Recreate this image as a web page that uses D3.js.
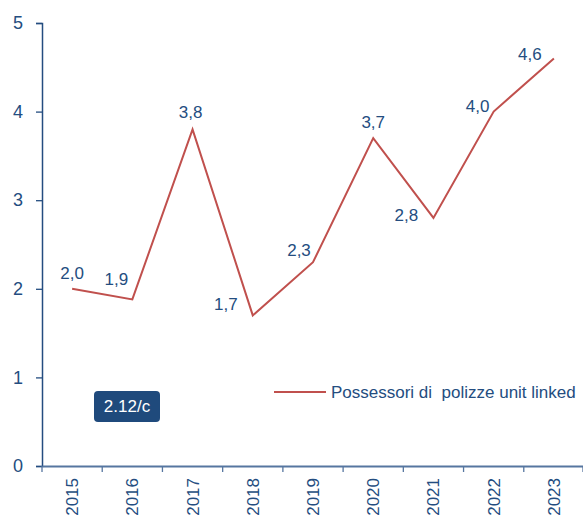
<!DOCTYPE html>
<html>
<head>
<meta charset="utf-8">
<script src="https://cdn.jsdelivr.net/npm/d3@7"></script>
<style>
  body { margin: 0; background: #fff; }
  text { font-family: "Liberation Sans", Arial, sans-serif; }
</style>
</head>
<body>
<div id="chart"></div>
<script>
// dati
const anni = ["2015", "2016", "2017", "2018", "2019", "2020", "2021", "2022", "2023"];
const valori = [2.0, 1.88, 3.8, 1.7, 2.3, 3.7, 2.8, 4.0, 4.6];
const etichette = ["2,0", "1,9", "3,8", "1,7", "2,3", "3,7", "2,8", "4,0", "4,6"];
const yTicks = [0, 1, 2, 3, 4, 5];
const nomeSerie = "Possessori di  polizze unit linked";

// spostamento delle etichette rispetto al punto (come nel grafico originale)
const offsetEtichette = [[0, -10], [-16, -14], [-2, -11], [-27, -5], [-14, -6], [0, -10], [-27, 3], [-16, 0], [-24, 2]];

const blu = "#244d80";
const rosso = "#c0504d";

const svg = d3.select("#chart")
  .append("svg")
  .attr("width", 583)
  .attr("height", 515);

const x = d3.scaleBand().domain(anni).range([42, 584]);
const y = d3.scaleLinear().domain([0, 5]).range([466, 23]);

// asse y
const assey = svg.append("g")
  .attr("transform", "translate(42,0)")
  .call(d3.axisLeft(y).tickValues(yTicks).tickFormat(d3.format("d")).tickSize(6).tickPadding(13));
assey.select(".domain").attr("stroke", blu).attr("stroke-width", 1.5);
assey.selectAll(".tick line").attr("stroke", blu).attr("stroke-width", 1.3);
assey.selectAll(".tick text")
  .attr("fill", blu)
  .style("font-size", "18px");

// asse x
const assex = svg.append("g")
  .attr("transform", "translate(0,466)")
  .call(d3.axisBottom(x).tickSize(0));
assex.select(".domain").attr("stroke", "#5676a0").attr("stroke-width", 1.8);
assex.selectAll(".tick text")
  .attr("fill", blu)
  .style("font-size", "17px")
  .attr("transform", "rotate(-90)")
  .attr("text-anchor", "end")
  .attr("x", -12)
  .attr("y", 0)
  .attr("dy", "0.35em");

// tacche tra le categorie
svg.append("g")
  .selectAll("line")
  .data(anni.concat(["fine"]))
  .join("line")
  .attr("x1", (d, i) => i < anni.length ? x(d) : x.range()[1] - 1)
  .attr("x2", (d, i) => i < anni.length ? x(d) : x.range()[1] - 1)
  .attr("y1", 466)
  .attr("y2", 472)
  .attr("stroke", "#5676a0")
  .attr("stroke-width", 1.3);

// linea
const cx = (d, i) => x(anni[i]) + x.bandwidth() / 2;
const linea = d3.line().x(cx).y(d => y(d));

svg.append("path")
  .datum(valori)
  .attr("d", linea)
  .attr("fill", "none")
  .attr("stroke", rosso)
  .attr("stroke-width", 2);

// etichette dei valori
svg.append("g")
  .selectAll("text")
  .data(valori)
  .join("text")
  .attr("x", (d, i) => cx(d, i) + offsetEtichette[i][0])
  .attr("y", (d, i) => y(d) + offsetEtichette[i][1])
  .attr("text-anchor", "middle")
  .attr("fill", blu)
  .style("font-size", "17px")
  .text((d, i) => etichette[i]);

// legenda
svg.append("line")
  .attr("x1", 274).attr("x2", 326)
  .attr("y1", 392).attr("y2", 392)
  .attr("stroke", rosso)
  .attr("stroke-width", 2);
svg.append("text")
  .attr("x", 331)
  .attr("y", 398)
  .attr("fill", blu)
  .style("font-size", "17px")
  .style("white-space", "pre")
  .text(nomeSerie);

// riquadro
svg.append("rect")
  .attr("x", 94).attr("y", 391)
  .attr("width", 66).attr("height", 31)
  .attr("rx", 4)
  .attr("fill", "#1f4a7c");
svg.append("text")
  .attr("x", 127).attr("y", 412)
  .attr("text-anchor", "middle")
  .attr("fill", "#fff")
  .style("font-size", "17px")
  .text("2.12/c");
</script>
</body>
</html>
